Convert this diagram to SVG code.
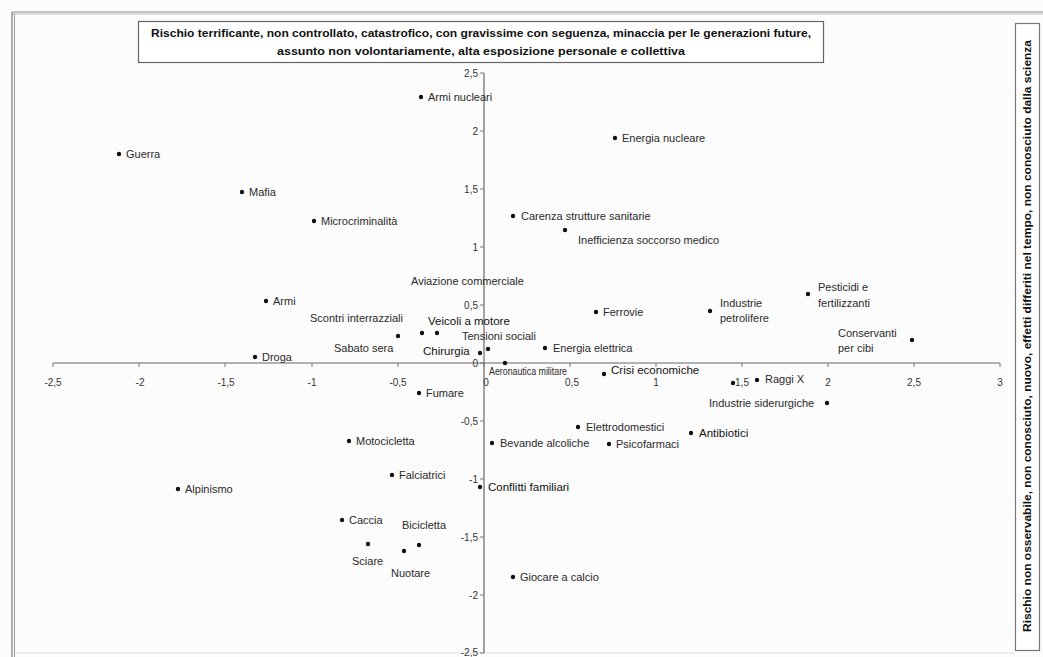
<svg xmlns="http://www.w3.org/2000/svg" width="1043" height="657" viewBox="0 0 1043 657">
<style>
text{font-family:"Liberation Sans",Arial,sans-serif;fill:#2a2a2a}
.lb{font-size:11px}
.sm{font-size:10px}
.dk{font-size:11.5px;fill:#111}
.tk{font-size:10px;fill:#333}
.tl{font-size:10.5px;font-weight:bold;fill:#111}
.dot{fill:#111}
.ax{stroke:#666;stroke-width:1.2;fill:none}
.tick{stroke:#777;stroke-width:1}
</style>
<rect width="1043" height="657" fill="#fcfcfc"/>
<g id="frame">
<line x1="12" y1="12" x2="1043" y2="12" stroke="#888" stroke-width="1"/>
<line x1="12" y1="14" x2="1043" y2="14" stroke="#bbb" stroke-width="1"/>
<line x1="12" y1="12" x2="12" y2="657" stroke="#777" stroke-width="1.2"/>
<line x1="14.5" y1="14" x2="14.5" y2="657" stroke="#999" stroke-width="1"/>
<line x1="15" y1="653" x2="1015" y2="653" stroke="#ddd" stroke-width="1"/>
</g>
<g id="title">
<rect x="138.5" y="21.5" width="685" height="41" fill="#fff" stroke="#666" stroke-width="1.2"/>
<text class="tl" x="481" y="37" text-anchor="middle" textLength="660" lengthAdjust="spacingAndGlyphs">Rischio terrificante, non controllato, catastrofico, con gravissime con seguenza, minaccia per le generazioni future,</text>
<text class="tl" x="481" y="55" text-anchor="middle" textLength="408" lengthAdjust="spacingAndGlyphs">assunto non volontariamente, alta esposizione personale e collettiva</text>
</g>
<g id="side-title">
<rect x="1015.5" y="23.5" width="24" height="627" fill="#fff" stroke="#777" stroke-width="1.2"/>
<text class="tl" transform="translate(1031,336) rotate(-90)" text-anchor="middle" textLength="592" lengthAdjust="spacingAndGlyphs">Rischio non osservabile, non conosciuto, nuovo, effetti differiti nel tempo, non conosciuto dalla scienza</text>
</g>
<g id="axes">
<line class="ax" x1="53" y1="363" x2="1000" y2="363"/>
<line class="ax" x1="484" y1="73" x2="484" y2="653"/>
<g class="tick">
<line x1="53" y1="363" x2="53" y2="367"/><line x1="139" y1="363" x2="139" y2="367"/><line x1="225" y1="363" x2="225" y2="367"/><line x1="312" y1="363" x2="312" y2="367"/><line x1="398" y1="363" x2="398" y2="367"/><line x1="484" y1="363" x2="484" y2="367"/><line x1="570" y1="363" x2="570" y2="367"/><line x1="656" y1="363" x2="656" y2="367"/><line x1="742" y1="363" x2="742" y2="367"/><line x1="828" y1="363" x2="828" y2="367"/><line x1="914" y1="363" x2="914" y2="367"/><line x1="1000" y1="363" x2="1000" y2="367"/>
<line x1="480" y1="73" x2="484" y2="73"/><line x1="480" y1="131" x2="484" y2="131"/><line x1="480" y1="189" x2="484" y2="189"/><line x1="480" y1="247" x2="484" y2="247"/><line x1="480" y1="305" x2="484" y2="305"/><line x1="480" y1="363" x2="484" y2="363"/><line x1="480" y1="421" x2="484" y2="421"/><line x1="480" y1="479" x2="484" y2="479"/><line x1="480" y1="537" x2="484" y2="537"/><line x1="480" y1="595" x2="484" y2="595"/><line x1="480" y1="653" x2="484" y2="653"/>
</g>
<g text-anchor="middle">
<text class="tk" x="53" y="386">-2,5</text><text class="tk" x="140" y="386">-2</text><text class="tk" x="226" y="386">-1,5</text><text class="tk" x="312" y="386">-1</text><text class="tk" x="398" y="386">-0,5</text><text class="tk" x="486" y="386">0</text><text class="tk" x="572" y="386">0,5</text><text class="tk" x="656" y="386">1</text><text class="tk" x="742" y="386">1,5</text><text class="tk" x="828" y="386">2</text><text class="tk" x="914" y="386">2,5</text><text class="tk" x="1000" y="386">3</text>
</g>
<g text-anchor="end">
<text class="tk" x="478" y="77">2,5</text><text class="tk" x="478" y="135">2</text><text class="tk" x="478" y="193">1,5</text><text class="tk" x="478" y="251">1</text><text class="tk" x="478" y="309">0,5</text><text class="tk" x="478" y="367">0</text><text class="tk" x="478" y="425">-0,5</text><text class="tk" x="478" y="483">-1</text><text class="tk" x="478" y="541">-1,5</text><text class="tk" x="478" y="599">-2</text><text class="tk" x="478" y="656">-2,5</text>
</g>
</g>
<g id="armi-nucleari"><circle class="dot" cx="421" cy="97" r="2.2"/><text class="lb" x="428" y="101">Armi nucleari</text></g>
<g id="guerra"><circle class="dot" cx="119" cy="154" r="2.2"/><text class="lb" x="126" y="158">Guerra</text></g>
<g id="energia-nucleare"><circle class="dot" cx="615" cy="138" r="2.2"/><text class="lb" x="622" y="142">Energia nucleare</text></g>
<g id="mafia"><circle class="dot" cx="242" cy="192" r="2.2"/><text class="lb" x="249" y="196">Mafia</text></g>
<g id="microcriminalita"><circle class="dot" cx="314" cy="221" r="2.2"/><text class="lb" x="321" y="225">Microcriminalità</text></g>
<g id="carenza"><circle class="dot" cx="513" cy="216" r="2.2"/><text class="lb" x="521" y="220">Carenza strutture sanitarie</text></g>
<g id="inefficienza"><circle class="dot" cx="565" cy="230" r="2.2"/><text class="lb" x="578" y="244">Inefficienza soccorso medico</text></g>
<g id="aviazione"><text class="lb" x="411" y="285">Aviazione commerciale</text></g>
<g id="armi"><circle class="dot" cx="266" cy="301" r="2.2"/><text class="lb" x="273" y="305">Armi</text></g>
<g id="scontri"><circle class="dot" cx="398" cy="336" r="2.2"/><text class="lb" x="310" y="322">Scontri interrazziali</text></g>
<g id="veicoli"><circle class="dot" cx="422" cy="333" r="2.2"/><text class="dk" x="428" y="325">Veicoli a motore</text></g>
<g id="tensioni"><circle class="dot" cx="437" cy="333" r="2.2"/><text class="lb" x="462" y="340">Tensioni sociali</text></g>
<g id="sabato"><text class="lb" x="334" y="352">Sabato sera</text></g>
<g id="chirurgia"><circle class="dot" cx="480" cy="353" r="2.2"/><circle class="dot" cx="488" cy="349" r="2.2"/><text class="dk" x="423" y="355">Chirurgia</text></g>
<g id="droga"><circle class="dot" cx="255" cy="357" r="2.2"/><text class="lb" x="262" y="361">Droga</text></g>
<g id="fumare"><circle class="dot" cx="419" cy="393" r="2.2"/><text class="lb" x="426" y="397">Fumare</text></g>
<g id="aeronautica"><circle class="dot" cx="505" cy="363" r="2.2"/><text class="sm" x="489" y="375" textLength="78" lengthAdjust="spacingAndGlyphs">Aeronautica militare</text></g>
<g id="ferrovie"><circle class="dot" cx="596" cy="312" r="2.2"/><text class="lb" x="603" y="316">Ferrovie</text></g>
<g id="energia-elettrica"><circle class="dot" cx="545" cy="348" r="2.2"/><text class="lb" x="553" y="352">Energia elettrica</text></g>
<g id="crisi"><circle class="dot" cx="604" cy="374" r="2.2"/><text class="dk" x="611" y="374">Crisi economiche</text></g>
<g id="petrolifere"><circle class="dot" cx="710" cy="311" r="2.2"/><text class="lb" x="720" y="307">Industrie</text><text class="lb" x="720" y="322">petrolifere</text></g>
<g id="pesticidi"><circle class="dot" cx="808" cy="294" r="2.2"/><text class="lb" x="818" y="291">Pesticidi e</text><text class="lb" x="818" y="307">fertilizzanti</text></g>
<g id="conservanti"><circle class="dot" cx="912" cy="340" r="2.2"/><text class="lb" x="838" y="337">Conservanti</text><text class="lb" x="838" y="352">per cibi</text></g>
<g id="raggi"><circle class="dot" cx="757" cy="380" r="2.2"/><text class="lb" x="765" y="383">Raggi X</text></g>
<g id="punto"><circle class="dot" cx="733" cy="383" r="2.2"/></g>
<g id="siderurgiche"><circle class="dot" cx="827" cy="403" r="2.2"/><text class="lb" x="709" y="407">Industrie siderurgiche</text></g>
<g id="elettrodomestici"><circle class="dot" cx="578" cy="427" r="2.2"/><text class="lb" x="586" y="431">Elettrodomestici</text></g>
<g id="antibiotici"><circle class="dot" cx="691" cy="433" r="2.2"/><text class="dk" x="699" y="437">Antibiotici</text></g>
<g id="bevande"><circle class="dot" cx="492" cy="443" r="2.2"/><text class="lb" x="500" y="447">Bevande alcoliche</text></g>
<g id="psicofarmaci"><circle class="dot" cx="609" cy="444" r="2.2"/><text class="lb" x="616" y="448">Psicofarmaci</text></g>
<g id="motocicletta"><circle class="dot" cx="349" cy="441" r="2.2"/><text class="lb" x="356" y="445">Motocicletta</text></g>
<g id="falciatrici"><circle class="dot" cx="392" cy="475" r="2.2"/><text class="lb" x="399" y="479">Falciatrici</text></g>
<g id="conflitti"><circle class="dot" cx="480" cy="487" r="2.2"/><text class="dk" x="488" y="491">Conflitti familiari</text></g>
<g id="alpinismo"><circle class="dot" cx="178" cy="489" r="2.2"/><text class="lb" x="185" y="493">Alpinismo</text></g>
<g id="caccia"><circle class="dot" cx="342" cy="520" r="2.2"/><text class="lb" x="349" y="524">Caccia</text></g>
<g id="bicicletta"><circle class="dot" cx="419" cy="545" r="2.2"/><text class="lb" x="402" y="529">Bicicletta</text></g>
<g id="sciare"><circle class="dot" cx="368" cy="544" r="2.2"/><text class="lb" x="352" y="565">Sciare</text></g>
<g id="nuotare"><circle class="dot" cx="404" cy="551" r="2.2"/><text class="lb" x="391" y="577">Nuotare</text></g>
<g id="giocare"><circle class="dot" cx="513" cy="577" r="2.2"/><text class="lb" x="520" y="581">Giocare a calcio</text></g>
</svg>
